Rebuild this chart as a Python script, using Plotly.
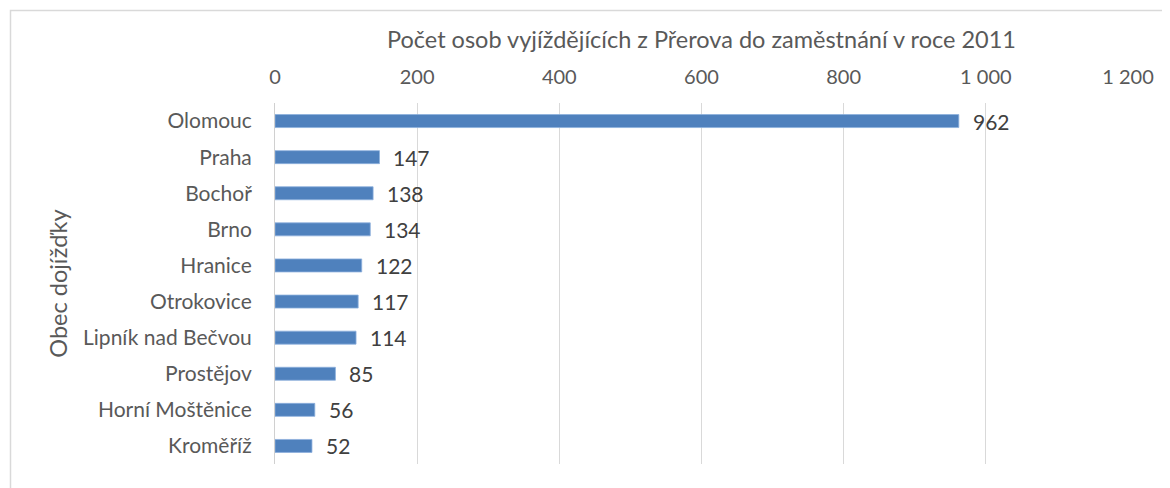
import plotly.graph_objects as go

obce = ["Olomouc", "Praha", "Bochoř", "Brno", "Hranice", "Otrokovice",
        "Lipník nad Bečvou", "Prostějov", "Horní Moštěnice", "Kroměříž"]
pocty = [962, 147, 138, 134, 122, 117, 114, 85, 56, 52]
tick_vals = [0, 200, 400, 600, 800, 1000, 1200]
tick_text = ["0", "200", "400", "600", "800", "1 000", "1 200"]

W, H = 1170, 488
OFF = 8  # page body margin
L, R, T, B = 275 - OFF, 42 + OFF, 103 - OFF, 24 + OFF
pw, ph = W - L - R, H - T - B

FONT = "Lato, 'Open Sans', sans-serif"

fig = go.Figure(go.Bar(
    x=pocty, y=obce, orientation="h",
    marker=dict(color="#4F81BD", line=dict(color="#8DB0DD", width=0.8)),
    width=0.36,
    hoverinfo="x+y",
))

for o, v in zip(obce, pocty):
    fig.add_annotation(x=v, y=o, text=str(v), showarrow=False,
                       xanchor="left", xshift=12, yshift=0,
                       font=dict(family=FONT, size=21, color="#404040"))

def px_x(p):
    return (p - OFF - L) / pw

def px_y(p):
    return (H - B - (p - OFF)) / ph

fig.add_shape(type="rect", xref="paper", yref="paper",
              x0=px_x(10.5), x1=px_x(1250), y0=px_y(600), y1=px_y(10.5),
              line=dict(color="#D9D9D9", width=1.5), fillcolor="rgba(0,0,0,0)")

fig.update_layout(
    width=W, height=H,
    margin=dict(l=L, r=R, t=T, b=B, autoexpand=False),
    plot_bgcolor="white", paper_bgcolor="white",
    showlegend=False,
    font=dict(family=FONT, color="#595959"),
    xaxis=dict(side="top", range=[0, 1200], tickvals=tick_vals, ticktext=tick_text,
               showgrid=True, gridcolor="#D9D9D9", gridwidth=1,
               zeroline=False, showline=False, ticks="", automargin=False,
               ticklabelstandoff=14,
               tickfont=dict(size=20, color="#595959"),
               title=dict(text="Počet osob vyjíždějících z Přerova do zaměstnání v roce 2011",
                          font=dict(size=23.5, color="#595959"), standoff=8)),
    yaxis=dict(categoryorder="array", categoryarray=obce[::-1],
               showline=True, linecolor="#D0D0D0", linewidth=1,
               showgrid=False, ticks="", ticklabelstandoff=18, automargin=False,
               tickfont=dict(size=21, color="#595959"),
               title=dict(text="Obec dojížďky", font=dict(size=23.5, color="#595959"),
                          standoff=8)),
)

fig.write_html("out.html")
